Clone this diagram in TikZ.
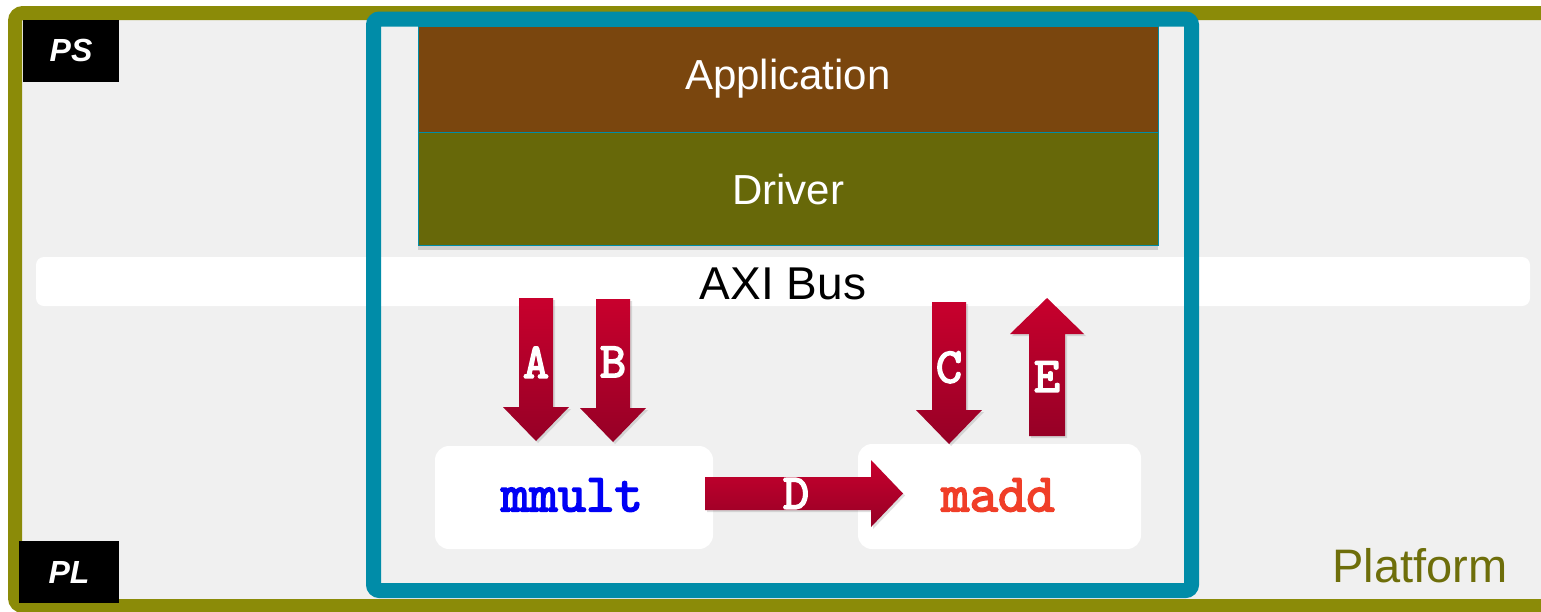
\documentclass[tikz,border=0pt]{standalone}
\usepackage{fontspec}
\setmainfont{Liberation Sans}
\newfontfamily\codefont{lmmono10-regular.otf}[FakeBold=3]
\usetikzlibrary{positioning,calc,shadows}

\definecolor{platolive}{RGB}{139,139,8}
\definecolor{plattext}{RGB}{110,110,10}
\definecolor{platbg}{RGB}{240,240,240}
\definecolor{framecyan}{RGB}{0,140,168}
\definecolor{appbrown}{RGB}{122,70,14}
\definecolor{drvolive}{RGB}{103,104,9}
\definecolor{mmultblue}{RGB}{0,0,245}
\definecolor{maddred}{RGB}{240,62,40}
\definecolor{arrowtop}{RGB}{200,0,45}
\definecolor{arrowbot}{RGB}{150,0,38}

\begin{document}
\begin{tikzpicture}[
	x=1pt, y=-1pt,
	tag/.style={fill=black, text=white, font=\fontsize{32}{32}\selectfont\bfseries\itshape, minimum height=62pt, inner sep=0pt},
	layer/.style={draw=framecyan, line width=0.8pt, text=white, font=\fontsize{42}{42}\selectfont, minimum width=740pt, inner sep=0pt},
	kernel/.style={fill=white, rounded corners=14pt, font=\fontsize{54}{54}\selectfont\codefont, inner sep=0pt},
	bigarrow/.style={top color=arrowtop, bottom color=arrowbot, drop shadow={opacity=0.25, shadow xshift=2pt, shadow yshift=-2pt}},
	arrowlabel/.style={text=white, font=\fontsize{50}{50}\selectfont\codefont, inner sep=0pt}
	]
	
	\useasboundingbox (0,0) rectangle (1541,611);
	
	%-----------------------
	% Platform frame and AXI bus
	%-----------------------
	\draw[platolive, line width=14pt, fill=platbg, rounded corners=8pt] (15,13) rectangle (1570,606);
	\node[fill=white, rounded corners=8pt, minimum width=1494pt, minimum height=49pt, inner sep=0pt] (axi) at (783,281.5) {};
	\node[font=\fontsize{46}{46}\selectfont, inner sep=0pt] (axilbl) at (783,284) {AXI Bus};
	
	\node[tag, minimum width=96pt] (PS) at (71,50.5) {PS};
	\node[tag, minimum width=100pt] (PL) at (69,572) {PL};
	\node[text=plattext, font=\fontsize{47}{47}\selectfont, inner sep=0pt] (plat) at (1420,566) {Platform};
	
	%-----------------------
	% Software stack
	%-----------------------
	\node[layer, fill=appbrown, minimum height=106pt] (app) at (788,79) {\raisebox{-3pt}{Application}};
	\node[layer, fill=drvolive, minimum height=113pt, below=0pt of app,
		drop shadow={opacity=0.3, shadow xshift=0pt, shadow yshift=-4pt}] (drv) {Driver};
	
	% the system box
	\draw[framecyan, line width=15pt, rounded corners=6pt] (373.5,19) rectangle (1191.5,590.5);
	
	%-----------------------
	% Hardware functions
	%-----------------------
	\node[kernel, text=mmultblue, minimum width=278pt, minimum height=103pt] (mmult) at (574,497.5) {};
	\node[kernel, text=maddred, minimum width=283pt, minimum height=105pt] (madd) at (999.5,496.5) {};
	\node[kernel, fill=none, text=mmultblue] (mmultlbl) at (572,495) {mmult};
	\node[kernel, fill=none, text=maddred] (maddlbl) at (998,495) {madd};
	
	%-----------------------
	% Data transfers
	%-----------------------
	\coordinate (A-s) at (536,298);
	\coordinate (A-t) at (536,441);
	\coordinate (B-s) at (613,299);
	\coordinate (B-t) at (613,442);
	\coordinate (C-s) at (949,302);
	\coordinate (C-t) at (949,444);
	\coordinate (E-s) at (1047,436);
	\coordinate (E-t) at (1047,298);
	\coordinate (D-s) at (705,493.5);
	\coordinate (D-t) at (903,493.5);
	
	% bus -> mmult
	\path[bigarrow] ($(A-s)+(-17,0)$) -- ($(A-s)+(17,0)$) -- ($(A-t)+(17,-34)$) -- ($(A-t)+(33,-34)$)
		-- (A-t) -- ($(A-t)+(-33,-34)$) -- ($(A-t)+(-17,-34)$) -- cycle;
	\path[bigarrow] ($(B-s)+(-17,0)$) -- ($(B-s)+(17,0)$) -- ($(B-t)+(17,-34)$) -- ($(B-t)+(33,-34)$)
		-- (B-t) -- ($(B-t)+(-33,-34)$) -- ($(B-t)+(-17,-34)$) -- cycle;
	
	% bus -> madd
	\path[bigarrow] ($(C-s)+(-17,0)$) -- ($(C-s)+(17,0)$) -- ($(C-t)+(17,-34)$) -- ($(C-t)+(33,-34)$)
		-- (C-t) -- ($(C-t)+(-33,-34)$) -- ($(C-t)+(-17,-34)$) -- cycle;
	
	% madd -> bus
	\path[bigarrow] ($(E-s)+(-18,0)$) -- ($(E-s)+(18,0)$) -- ($(E-t)+(18,36)$) -- ($(E-t)+(37,36)$)
		-- (E-t) -- ($(E-t)+(-37,36)$) -- ($(E-t)+(-18,36)$) -- cycle;
	
	% mmult -> madd
	\path[bigarrow] ($(D-s)+(0,-16.5)$) -- ($(D-t)+(-32,-16.5)$) -- ($(D-t)+(-32,-33.5)$)
		-- (D-t) -- ($(D-t)+(-32,33.5)$) -- ($(D-t)+(-32,16.5)$) -- ($(D-s)+(0,16.5)$) -- cycle;
	
	\node[arrowlabel] (lblA) at ($(A-s)!0.45!(A-t)$) {A};
	\node[arrowlabel] (lblB) at ($(B-s)!0.44!(B-t)$) {B};
	\node[arrowlabel] (lblC) at ($(C-s)!0.46!(C-t)$) {C};
	\node[arrowlabel] (lblE) at ($(E-s)!0.43!(E-t)$) {E};
	\node[arrowlabel] (lblD) at ($(D-s)!0.46!(D-t)$) {D};
	
\end{tikzpicture}
\end{document}
